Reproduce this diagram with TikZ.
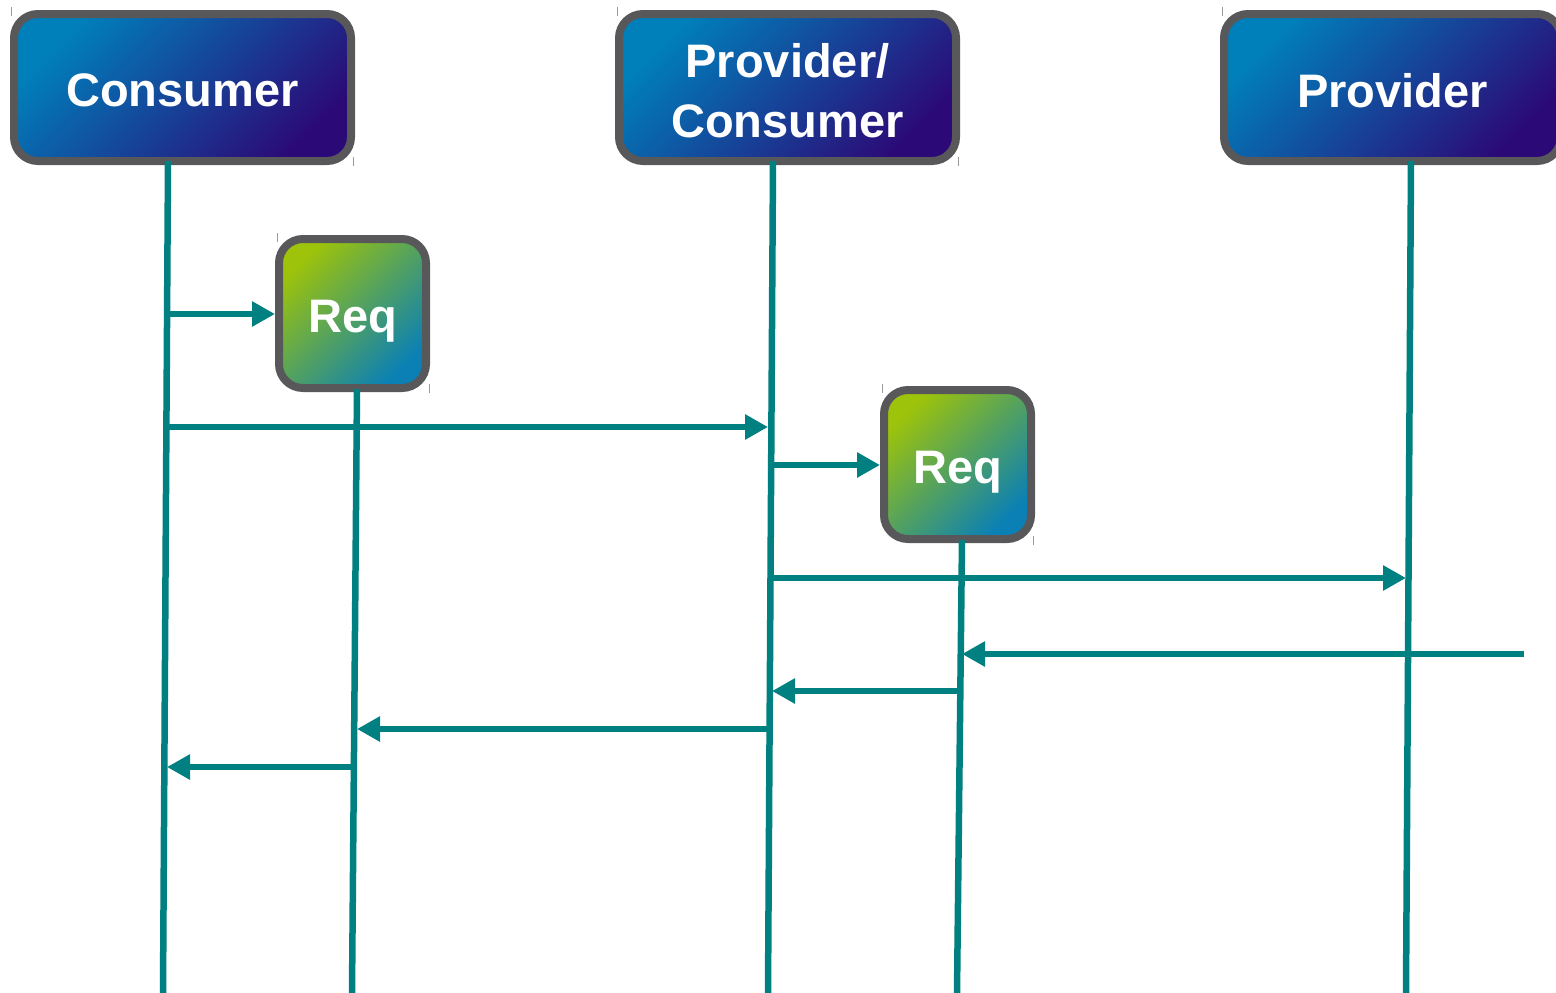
\documentclass[tikz,border=0pt]{standalone}
\usepackage{fontspec}
\setmainfont{Liberation Sans}
\usetikzlibrary{arrows.meta,calc}
\definecolor{teal1}{RGB}{0,128,128}
\definecolor{frame}{RGB}{88,88,91}
\definecolor{blueA}{RGB}{0,128,187}
\definecolor{blueB}{RGB}{43,10,119}
\definecolor{greenA}{RGB}{157,195,10}
\definecolor{greenB}{RGB}{10,128,181}
\tikzset{
  header/.style={draw=frame, line width=8pt, rounded corners=24pt,
    top color=blueA, bottom color=blueB, shading angle=45,
    minimum width=337pt, minimum height=147pt, inner sep=0pt},
  reqbox/.style={draw=frame, line width=8pt, rounded corners=24pt,
    top color=greenA, bottom color=greenB, shading angle=45,
    minimum width=147pt, minimum height=149pt, inner sep=0pt},
  boxtext/.style={text=white, inner sep=0pt, align=center,
    font=\bfseries\fontsize{47}{60}\selectfont},
  life/.style={draw=teal1, line width=6.5pt},
  msg/.style={draw=teal1, line width=6.5pt, -{Triangle[length=23pt,width=24pt]}},
  tick/.style={draw=frame!60, line width=0.8pt}
}
\begin{document}
\begin{tikzpicture}[x=1pt,y=-1pt]
\useasboundingbox (0,0) rectangle (1556,993);
% headers
\node[header] (cons) at (182.5,87.5) {};
\node[header] (pc) at (787.5,87.5) {};
\node[header] (prov) at (1392.5,87.5) {};
\node[boxtext] (consT) at ($(cons.center)+(0,3)$) {Consumer};
\node[boxtext] (pcT) at ($(pc.center)+(0,3)$) {Provider/\\Consumer};
\node[boxtext] (provT) at ($(prov.center)+(0,3)$) {Provider};
% req boxes
\node[reqbox] (req1) at (352.5,313.5) {};
\node[reqbox] (req2) at (957.5,464.5) {};
\node[boxtext] (req1T) at ($(req1.center)+(0,8)$) {Req};
\node[boxtext] (req2T) at ($(req2.center)+(0,8)$) {Req};
% corner ticks
\draw[tick] (11,7) -- (11,16);  \draw[tick] (353,157) -- (353,166);
\draw[tick] (617,7) -- (617,16); \draw[tick] (958,157) -- (958,166);
\draw[tick] (1222,7) -- (1222,16);
\draw[tick] (277,233) -- (277,242); \draw[tick] (429,384) -- (429,393);
\draw[tick] (882,384) -- (882,393); \draw[tick] (1033,536) -- (1033,545);
% lifeline coordinates
\coordinate (cT) at (168,161);  \coordinate (cB) at (163,993);
\coordinate (pcTop) at (773,161); \coordinate (pcB) at (768,993);
\coordinate (pT) at (1411,161); \coordinate (pB) at (1406,993);
\coordinate (r1T) at (357,389); \coordinate (r1B) at (352,993);
\coordinate (r2T) at (962,540); \coordinate (r2B) at (957,993);
% lifelines
\draw[life] (cT) -- (cB);
\draw[life] (pcTop) -- (pcB);
\draw[life] (pT) -- (pB);
\draw[life] (r1T) -- (r1B);
\draw[life] (r2T) -- (r2B);
% message end points
\coordinate (m1a) at (166,314);
\coordinate (m2a) at (166,427);  \coordinate (m2b) at (768,427);
\coordinate (m3a) at (771,465);
\coordinate (m4a) at (771,578);  \coordinate (m4b) at (1406,578);
\coordinate (m5a) at (1524,654); \coordinate (m5b) at (962,654);
\coordinate (m6a) at (957,691);  \coordinate (m6b) at (772,691);
\coordinate (m7a) at (768,729);  \coordinate (m7b) at (357,729);
\coordinate (m8a) at (352,767);  \coordinate (m8b) at (167,767);
% messages
\draw[msg] (m1a) -- (req1.west |- m1a);
\draw[msg] (m2a) -- (m2b);
\draw[msg] (m3a) -- (req2.west |- m3a);
\draw[msg] (m4a) -- (m4b);
\draw[msg] (m5a) -- (m5b);
\draw[msg] (m6a) -- (m6b);
\draw[msg] (m7a) -- (m7b);
\draw[msg] (m8a) -- (m8b);
\end{tikzpicture}
\end{document}
